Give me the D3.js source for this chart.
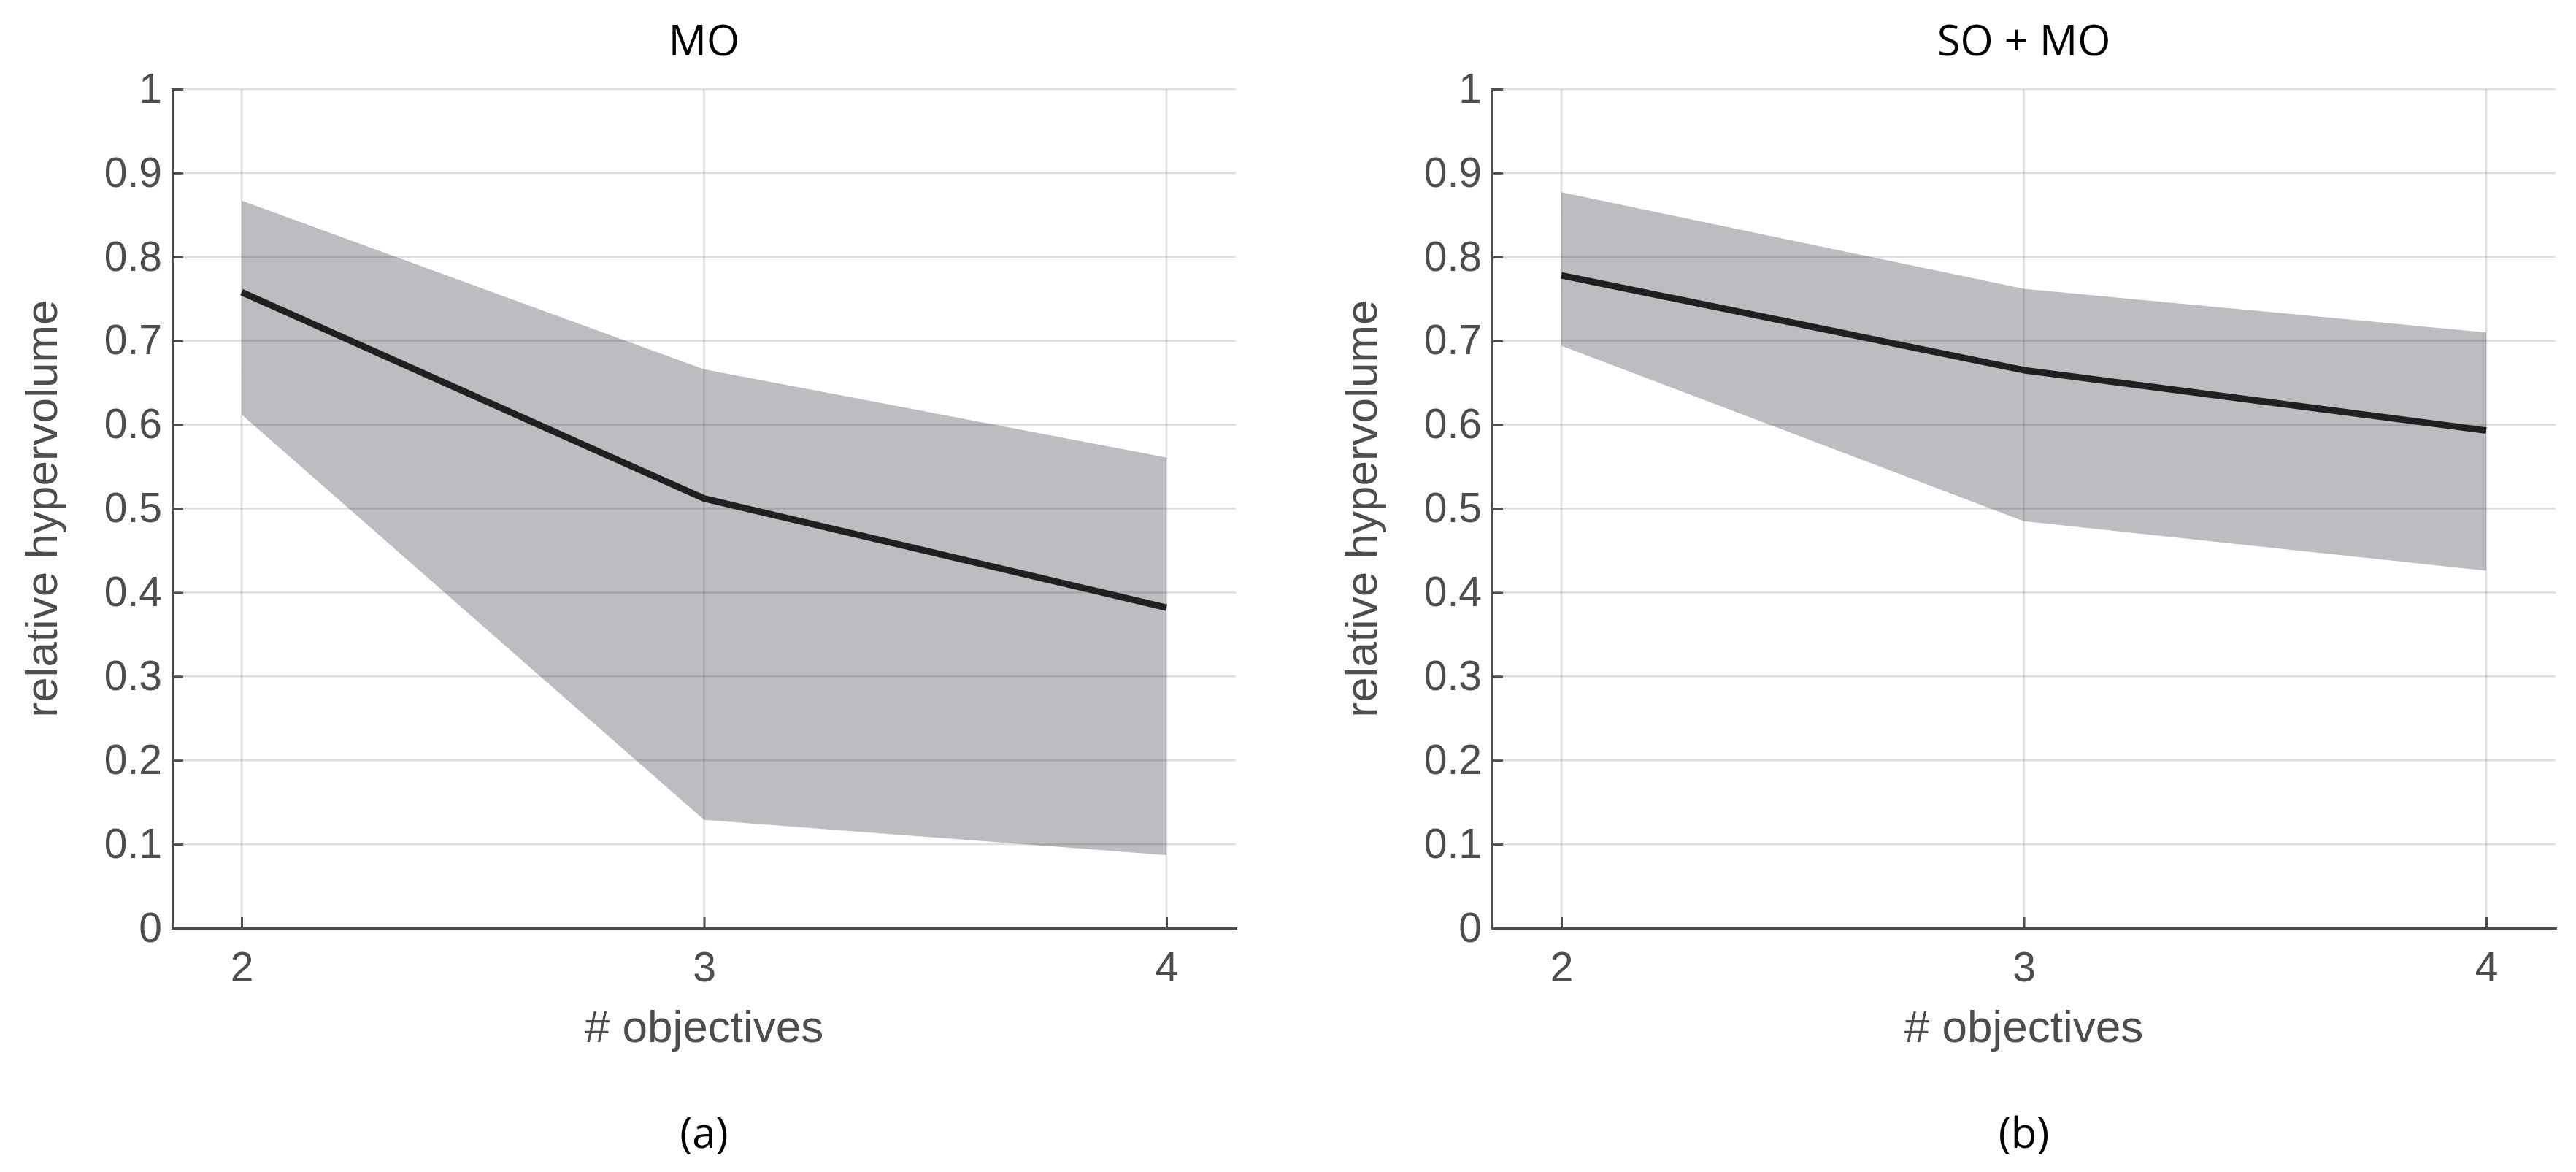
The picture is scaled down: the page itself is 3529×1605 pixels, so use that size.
<!DOCTYPE html>
<html>
<head>
<meta charset="utf-8">
<script src="https://cdn.jsdelivr.net/npm/d3@7"></script>
<style>
  body { margin: 0; background: #ffffff; }
</style>
</head>
<body>
<div id="chart"></div>
<script>
// values
var objectives = [2, 3, 4];
var xTicks = [2, 3, 4];
var yTicks = [0, 0.1, 0.2, 0.3, 0.4, 0.5, 0.6, 0.7, 0.8, 0.9, 1];

var moMean  = [0.758, 0.512, 0.382];
var moUpper = [0.867, 0.666, 0.561];
var moLower = [0.612, 0.129, 0.087];

var somoMean  = [0.778, 0.665, 0.593];
var somoUpper = [0.877, 0.762, 0.710];
var somoLower = [0.694, 0.485, 0.426];

var titles = ["MO", "SO + MO"];
var captions = ["(a)", "(b)"];

var W = 3529, H = 1605;
var axisColor = "#4d4d4d";
var tickFont = "'Liberation Sans', Arial, Helvetica, sans-serif";
var titleFont = "'Open Sans', 'Noto Sans', sans-serif";

var svg = d3.select("#chart")
    .append("svg")
    .attr("width", W)
    .attr("height", H)
    .style("background", "#ffffff");

// "top" is taken by window.top, so use other names
var plotW = 1457, plotTop = 122, plotBottom = 1271;

function drawPanel(left, title, caption, mean, upper, lower) {
    var x = d3.scaleLinear().domain([1.85, 4.15]).range([left, left + plotW]);
    var y = d3.scaleLinear().domain([0, 1]).range([plotBottom, plotTop]);

    var rows = objectives.map(function(d, i) {
        return { k: d, m: mean[i], hi: upper[i], lo: lower[i] };
    });

    var g = svg.append("g");

    // shaded band
    g.append("path")
        .datum(rows)
        .attr("d", d3.area()
            .x(function(d) { return x(d.k); })
            .y0(function(d) { return y(d.lo); })
            .y1(function(d) { return y(d.hi); }))
        .style("fill", "#bcbdc1")
        .style("stroke", "none");

    // grid (semi transparent, on top of band)
    g.append("g").selectAll("line")
        .data(yTicks)
        .enter().append("line")
        .attr("x1", left).attr("x2", left + plotW)
        .attr("y1", function(d) { return y(d); })
        .attr("y2", function(d) { return y(d); })
        .style("stroke", "rgba(38,38,38,0.15)")
        .style("stroke-width", 2.6);

    g.append("g").selectAll("line")
        .data(xTicks)
        .enter().append("line")
        .attr("x1", function(d) { return x(d); })
        .attr("x2", function(d) { return x(d); })
        .attr("y1", plotTop).attr("y2", plotBottom)
        .style("stroke", "rgba(38,38,38,0.15)")
        .style("stroke-width", 2.6);

    // mean line
    g.append("path")
        .datum(rows)
        .attr("d", d3.line()
            .x(function(d) { return x(d.k); })
            .y(function(d) { return y(d.m); }))
        .style("fill", "none")
        .style("stroke", "#231f20")
        .style("stroke-width", 9)
        .style("stroke-linejoin", "round");

    // axes
    var ax = g.append("g")
        .attr("transform", "translate(0," + plotBottom + ")")
        .call(d3.axisBottom(x).tickValues(xTicks)
            .tickSizeInner(-15).tickSizeOuter(0).tickPadding(33)
            .tickFormat(d3.format("d")));

    var ay = g.append("g")
        .attr("transform", "translate(" + left + ",0)")
        .call(d3.axisLeft(y).tickValues(yTicks)
            .tickSizeInner(-15).tickSizeOuter(0).tickPadding(14)
            .tickFormat(d3.format("~g")));

    [ax, ay].forEach(function(a) {
        a.attr("font-family", tickFont).attr("font-size", 57);
        a.select(".domain").style("stroke", axisColor).style("stroke-width", 3)
            .style("stroke-linecap", "square");
        a.selectAll(".tick line").style("stroke", axisColor).style("stroke-width", 3);
        a.selectAll(".tick text").style("fill", axisColor);
    });

    var cx = x(3);

    g.append("text")
        .attr("x", cx).attr("y", 1427)
        .attr("text-anchor", "middle")
        .style("font-family", tickFont)
        .style("font-size", "62px")
        .style("fill", axisColor)
        .text("# objectives");

    g.append("text")
        .attr("transform", "translate(" + (left - 158) + "," + ((plotTop + plotBottom) / 2) + ") rotate(-90)")
        .attr("text-anchor", "middle")
        .style("font-family", tickFont)
        .style("font-size", "62px")
        .style("fill", axisColor)
        .text("relative hypervolume");

    g.append("text")
        .attr("x", cx).attr("y", 76)
        .attr("text-anchor", "middle")
        .style("font-family", titleFont)
        .style("font-size", "58px")
        .style("fill", "#000000")
        .text(title);

    g.append("text")
        .attr("x", cx).attr("y", 1572)
        .attr("text-anchor", "middle")
        .style("font-family", titleFont)
        .style("font-size", "58px")
        .style("fill", "#000000")
        .text(caption);
}

drawPanel(236, titles[0], captions[0], moMean, moUpper, moLower);
drawPanel(2044, titles[1], captions[1], somoMean, somoUpper, somoLower);
</script>
</body>
</html>
